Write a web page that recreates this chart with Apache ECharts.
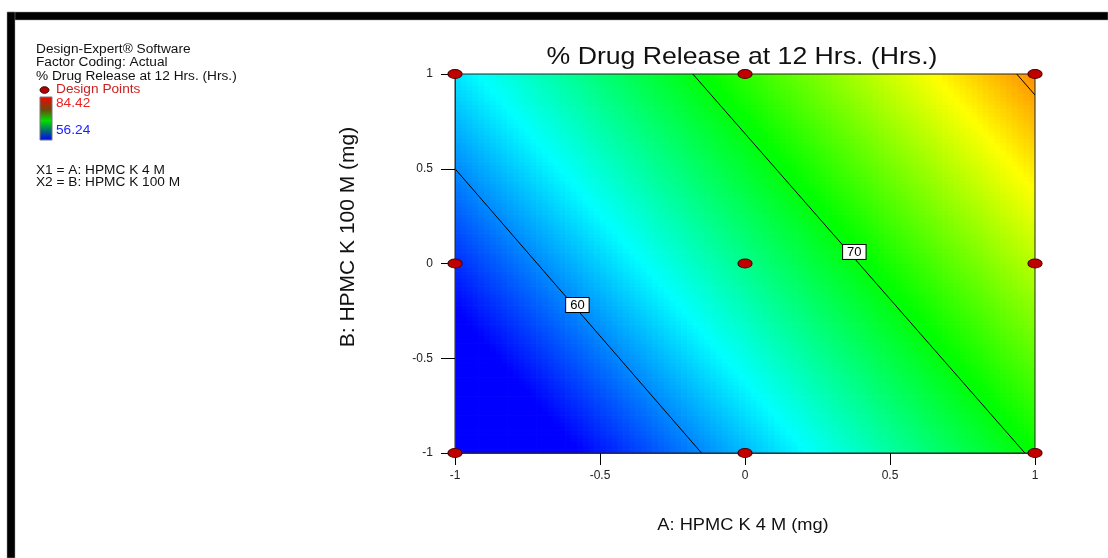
<!DOCTYPE html>
<html><head><meta charset="utf-8">
<script src="https://cdn.jsdelivr.net/npm/echarts@6/dist/echarts.min.js"></script>
<style>html,body{margin:0;padding:0;background:#fff}#c{width:1108px;height:558px}</style>
</head><body><div id="c"></div>
<script>
// ---- data ----
const xTicks = [-1, -0.5, 0, 0.5, 1];
const yTicks = [-1, -0.5, 0, 0.5, 1];
const designPoints = [[-1,-1],[0,-1],[1,-1],[-1,0],[0,0],[1,0],[-1,1],[0,1],[1,1]];
// fitted linear model: Y = b0 + bA*A + bB*B
const modelCoef = [66.44, 8.97, 5.10];
const colorRange = [56.24, 84.42];
const contour60 = [[-1, 0.5], [-0.15, -1]];
const contour70 = [[-0.18, 1], [0.965, -1]];
const contour80 = [[0.937, 1], [1, 0.889]];
const contourLabels = [{name: '60', value: [-0.578, -0.219]}, {name: '70', value: [0.377, 0.061]}];
const titleText = '% Drug Release at 12 Hrs. (Hrs.)';
const xName = 'A: HPMC K 4 M (mg)';
const yName = 'B: HPMC K 100 M (mg)';

// ---- model surface evaluated on the plotting grid ----
const N = 100, step = 2 / N, half = step / 2;
const surface = [];
for (let i = 0; i < N; i++) {
  for (let j = 0; j < N; j++) {
    const a = -1 + half + i * step, b = -1 + half + j * step;
    surface.push([a, b, modelCoef[0] + modelCoef[1] * a + modelCoef[2] * b]);
  }
}

const FONT = 'Arial, "Liberation Sans", sans-serif';
const chart = echarts.init(document.getElementById('c'), null, {renderer: 'canvas'});

function txt(x, y, text, size, color, opts) {
  return Object.assign({
    type: 'text', x: x, y: y, silent: true, z: 100,
    style: Object.assign({
      text: text, font: size + 'px ' + FONT, fill: color,
      textAlign: 'left', textVerticalAlign: 'middle', align: 'left', verticalAlign: 'middle'
    }, (opts && opts.style) || {})
  }, (opts && opts.el) || {});
}

const lineSeries = (d) => ({
  type: 'line', data: d, symbol: 'none', silent: true, z: 5,
  lineStyle: {color: '#000', width: 1}, animation: false
});

const fmt = (v) => (xTicks.indexOf(v) >= 0 ? String(v) : '');

chart.setOption({
  animation: false,
  backgroundColor: '#fff',
  grid: {left: 455, top: 74, width: 580, height: 379, show: true, borderColor: '#222', borderWidth: 1, backgroundColor: 'transparent', z: 3},
  xAxis: {
    type: 'value', min: -1, max: 1, interval: 0.5, z: 6,
    axisLine: {show: true, onZero: false, lineStyle: {color: '#333', width: 1}},
    axisTick: {show: true, inside: false, length: 12, lineStyle: {color: '#000', width: 1}},
    axisLabel: {margin: 17, fontSize: 12, color: '#222', fontFamily: FONT, formatter: fmt},
    splitLine: {show: false}
  },
  yAxis: {
    type: 'value', min: -1, max: 1, interval: 0.5, z: 6,
    axisLine: {show: true, onZero: false, lineStyle: {color: '#333', width: 1}},
    axisTick: {show: true, inside: false, length: 14, lineStyle: {color: '#000', width: 1}},
    axisLabel: {margin: 22, fontSize: 12, color: '#222', fontFamily: FONT, formatter: (v) => (yTicks.indexOf(v) >= 0 ? String(v) : '')},
    splitLine: {show: false}
  },
  visualMap: {
    type: 'continuous', show: false, min: colorRange[0], max: colorRange[1],
    dimension: 2, seriesIndex: 0,
    inRange: {color: ['#0000ff', '#00ffff', '#00ff00', '#ffff00', '#ff0000']}
  },
  series: [
    {
      type: 'custom', data: surface, clip: true, silent: true, z: 1, progressive: 0,
      encode: {x: 0, y: 1},
      renderItem: function (params, api) {
        const a = api.value(0), b = api.value(1);
        const p1 = api.coord([a - half, b + half]);
        const p2 = api.coord([a + half, b - half]);
        return {type: 'rect', shape: {x: p1[0], y: p1[1], width: p2[0] - p1[0] + 0.7, height: p2[1] - p1[1] + 0.7},
          style: {fill: api.visual('color')}};
      }
    },
    lineSeries(contour60),
    lineSeries(contour70),
    lineSeries(contour80),
    {
      type: 'scatter', data: contourLabels, symbolSize: 1, silent: true, z: 8,
      itemStyle: {color: 'rgba(0,0,0,0)', opacity: 1},
      label: {show: true, position: 'inside', formatter: '{b}', fontSize: 13, fontFamily: FONT, color: '#000',
        backgroundColor: '#fff', borderColor: '#000', borderWidth: 1, padding: [1, 4, 0, 4], opacity: 1}
    },
    {
      type: 'scatter', data: designPoints, symbol: 'circle', symbolSize: [14, 9], clip: false, z: 10, silent: true,
      itemStyle: {color: '#c00000', borderColor: '#500000', borderWidth: 1, opacity: 1}
    }
  ],
  graphic: [
    // frame
    {type: 'rect', shape: {x: 8, y: 12, width: 1100, height: 8}, style: {fill: '#000', stroke: '#999', lineWidth: 0.5}, silent: true},
    {type: 'rect', shape: {x: 7, y: 12, width: 8, height: 546}, style: {fill: '#000', stroke: '#999', lineWidth: 0.5}, silent: true},
    // left annotation panel
    txt(36, 50, 'Design-Expert® Software', 12, '#111', {el: {scaleX: 1.14}}),
    txt(36, 63, 'Factor Coding: Actual', 12, '#111', {el: {scaleX: 1.14}}),
    txt(36, 77, '% Drug Release at 12 Hrs. (Hrs.)', 12, '#111', {el: {scaleX: 1.14}}),
    {type: 'ellipse', shape: {cx: 44.5, cy: 90, rx: 4.5, ry: 3.3}, style: {fill: '#b00000', stroke: '#400000', lineWidth: 1}, silent: true},
    txt(56, 90, 'Design Points', 12, '#cc1f1f', {el: {scaleX: 1.14}}),
    {type: 'rect', shape: {x: 40, y: 97, width: 12, height: 43}, silent: true,
      style: {stroke: '#777', lineWidth: 1, fill: new echarts.graphic.LinearGradient(0, 0, 0, 1, [
        {offset: 0, color: '#ff0000'}, {offset: 0.3, color: '#6b4a10'}, {offset: 0.55, color: '#00e000'},
        {offset: 0.78, color: '#006a70'}, {offset: 1, color: '#0000ff'}])}},
    txt(56, 104, '84.42', 12, '#ee2020', {el: {scaleX: 1.14}}),
    txt(56, 131, '56.24', 12, '#2020ff', {el: {scaleX: 1.14}}),
    txt(36, 171, 'X1 = A: HPMC K 4 M', 12, '#111', {el: {scaleX: 1.14}}),
    txt(36, 183, 'X2 = B: HPMC K 100 M', 12, '#111', {el: {scaleX: 1.14}}),
    // title and axis names
    txt(742, 57, titleText, 24, '#111', {el: {scaleX: 1.11}, style: {textAlign: 'center', align: 'center'}}),
    txt(743, 526, xName, 16, '#111', {el: {scaleX: 1.14}, style: {textAlign: 'center', align: 'center'}}),
    txt(348, 237, yName, 21, '#111', {el: {rotation: Math.PI / 2}, style: {textAlign: 'center', align: 'center'}})
  ]
});
</script>
</body></html>
